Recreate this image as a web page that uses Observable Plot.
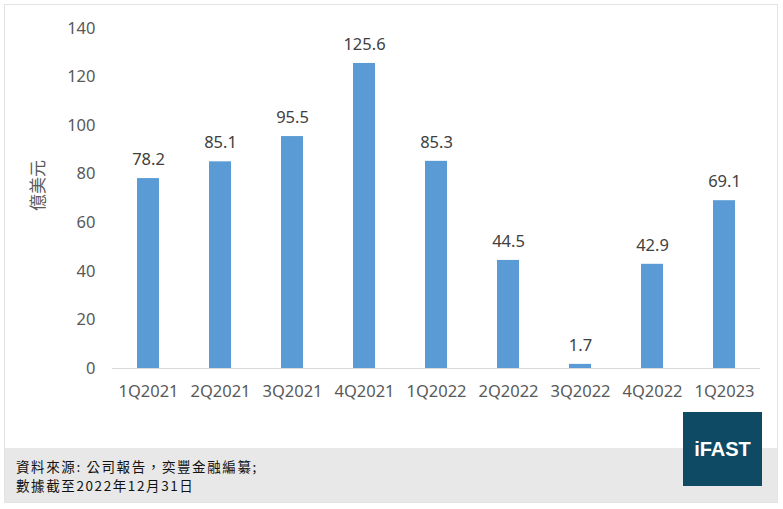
<!DOCTYPE html>
<html><head><meta charset="utf-8">
<script src="https://cdn.jsdelivr.net/npm/d3@7"></script>
<script src="https://cdn.jsdelivr.net/npm/@observablehq/plot@0.6"></script>
<style>
body{margin:0;background:#fff;}
#card{position:relative;width:783px;height:509px;overflow:hidden;}
#frame{position:absolute;left:4px;top:4px;width:774px;height:499px;border:1px solid #e3e3e3;box-sizing:border-box;}
#chart{position:absolute;left:0;top:0;}
#footer{position:absolute;left:5px;top:448px;width:772px;height:54px;background:#e8e8e8;}
.note{position:absolute;left:16px;font:13.5px "Noto Sans CJK TC","Noto Sans",sans-serif;line-height:14px;letter-spacing:1.6px;color:#111;white-space:nowrap;}
#logo{position:absolute;left:683px;top:412px;width:79px;height:74px;background:#0e4a63;color:#fff;font:bold 20px "Liberation Sans",Arial,sans-serif;display:flex;align-items:center;justify-content:center;}
</style></head>
<body>
<div id="card">
<div id="frame"></div>
<div id="footer"></div>
<div id="chart"></div>
<div class="note" style="top:459px">資料來源: 公司報告，奕豐金融編纂;</div>
<div class="note" style="top:478px">數據截至2022年12月31日</div>
<div id="logo">iFAST</div>
</div>
<script>
const quarters = ["1Q2021","2Q2021","3Q2021","4Q2021","1Q2022","2Q2022","3Q2022","4Q2022","1Q2023"];
const values = [78.2, 85.1, 95.5, 125.6, 85.3, 44.5, 1.7, 42.9, 69.1];
const yTicks = [0, 20, 40, 60, 80, 100, 120, 140];
const yLabel = "億美元";

const data = quarters.map((q, i) => ({q, v: values[i]}));
const font = "Noto Sans, sans-serif";

const chart = Plot.plot({
  width: 783,
  height: 448,
  marginLeft: 112,
  marginRight: 23,
  marginTop: 28,
  marginBottom: 80,
  style: {fontFamily: font, fontSize: "16.5px", color: "#595959", background: "transparent"},
  x: {domain: quarters, paddingInner: 0.69, paddingOuter: 0.345, label: null},
  y: {domain: [0, 140], label: null},
  marks: [
    Plot.barY(data, {x: "q", y: "v", fill: "#5b9bd5"}),
    Plot.ruleY([0], {stroke: "#d9d9d9", strokeWidth: 1}),
    Plot.text(data, {x: "q", y: "v", text: d => d.v.toFixed(1), dy: -19, fill: "#404040", fontSize: 16.5}),
    Plot.axisX({tickSize: 0, tickPadding: 17, fontSize: 16.5, fill: "#595959", label: null}),
    Plot.axisY({ticks: yTicks, tickSize: 0, tickPadding: 17, fontSize: 16.5, fill: "#595959", label: null}),
    Plot.text([yLabel], {frameAnchor: "left", textAnchor: "middle", dx: -74, dy: -13, rotate: -90, text: d => d, fontSize: 17, fill: "#595959", fontFamily: "Noto Sans CJK TC"})
  ]
});
document.getElementById("chart").appendChild(chart);
</script>
</body></html>
